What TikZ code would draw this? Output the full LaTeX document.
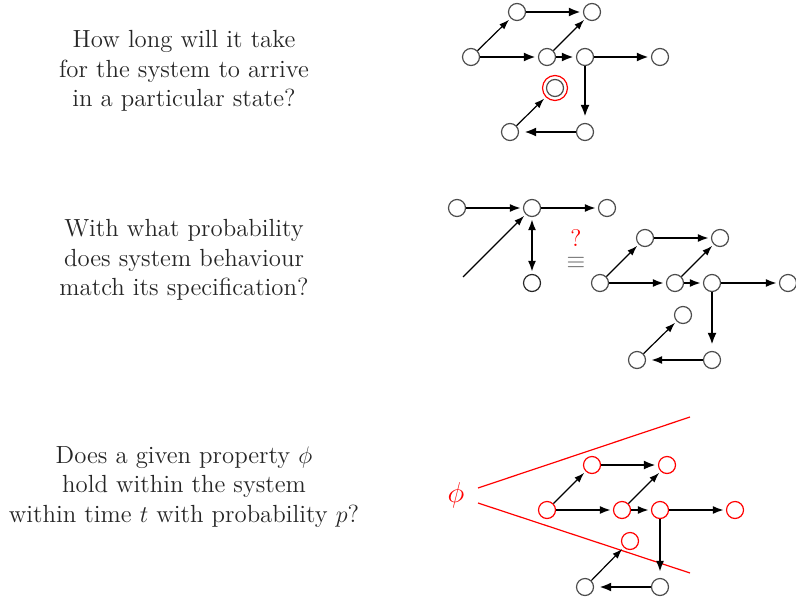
\documentclass[tikz,border=0pt]{standalone}
\usepackage{amsmath,amssymb}
\usepackage{tikz}
\usetikzlibrary{arrows.meta}

\begin{document}
\begin{tikzpicture}[x=0.5pt,y=-0.5pt,
  st/.style={circle,draw=black!70,line width=0.6pt,minimum size=8.5pt,inner sep=0pt},
  rst/.style={st,draw=red},
  tk/.style={-{Latex[length=6pt,width=4.5pt]},line width=1.4pt,shorten >=1pt},
  md/.style={-{Latex[length=5.5pt,width=4pt]},line width=0.95pt,shorten >=1pt},
  tn/.style={-{Latex[length=5pt,width=3.5pt]},line width=0.6pt,shorten >=1pt},
  qtext/.style={align=center,text=black!85,font=\fontsize{12.4}{14.8}\selectfont}]
  \clip (0,0) rectangle (796,599);

  % questions
  \node (t1) [qtext] at (184,71) {How long will it take\\for the system to arrive\\in a particular state?};
  \node (t2) [qtext] at (184,260) {With what probability\\does system behaviour\\match its specification?};
  \node (t3) [qtext] at (184,487) {Does a given property $\phi$\\hold within the system\\within time $t$ with probability $p$?};

  % first graph: reaching a state
  \node (A) [st] at (471,57) {};
  \node (B) [st] at (517,12) {};
  \node (C) [st] at (592,12) {};
  \node (D) [st] at (547,57) {};
  \node (E) [st] at (585,57) {};
  \node (F) [st] at (660,57) {};
  \node (G) [circle,draw=red,line width=0.6pt,minimum size=12.5pt,inner sep=0pt] at (555,88) {};
  \node [st] at (G) {};
  \node (H) [st] at (510,132) {};
  \node (I) [st] at (585,132) {};
  \draw[tn] (A) -- (B);
  \draw[tk] (B) -- (C);
  \draw[tk] (A) -- (D);
  \draw[tn] (D) -- (C);
  \draw[tk] (D) -- (E);
  \draw[tk] (E) -- (F);
  \draw[tk,shorten >=3pt] (E) -- (I);
  \draw[tk,shorten >=2.5pt] (I) -- (H);
  \draw[tn] (H) -- (G);

  % second graph: specification vs system
  \node (P1) [st] at (457,208) {};
  \node (P2) [st] at (532,208) {};
  \node (P3) [st] at (607,208) {};
  \node (P4) [st,draw=black!85] at (532,283) {};
  \coordinate (in) at (463,277);
  \draw[md] (P1) -- (P2);
  \draw[md] (P2) -- (P3);
  \draw[md,{Latex[length=5.5pt,width=4pt]}-{Latex[length=5.5pt,width=4pt]},shorten <=1pt] (P2) -- (P4);
  \draw[tn] (in) -- (P2);
  \node (rel) [align=center,font=\large,inner sep=0pt] at (576,249)
    {\textcolor{red}{?}\\[-3pt]\textcolor{black!60}{$\equiv$}};

  \node (Q1) [st] at (600,283) {};
  \node (Q2) [st] at (645,238) {};
  \node (Q3) [st] at (720,238) {};
  \node (Q4) [st] at (675,283) {};
  \node (Q5) [st] at (712,283) {};
  \node (Q6) [st] at (788,283) {};
  \node (Q7) [st] at (683,315) {};
  \node (Q8) [st] at (637,360) {};
  \node (Q9) [st] at (712,360) {};
  \draw[tn] (Q1) -- (Q2);
  \draw[md] (Q2) -- (Q3);
  \draw[md] (Q1) -- (Q4);
  \draw[tn] (Q4) -- (Q3);
  \draw[md] (Q4) -- (Q5);
  \draw[md] (Q5) -- (Q6);
  \draw[tk,shorten >=3pt] (Q5) -- (Q9);
  \draw[md,shorten >=2.5pt] (Q9) -- (Q8);
  \draw[tn] (Q8) -- (Q7);

  % third graph: property phi
  \draw[red,line width=0.6pt] (478,488) -- (690,417);
  \draw[red,line width=0.6pt] (478,503) -- (690,573);
  \node (phi) [text=red,font=\Large] at (456,495) {$\phi$};

  \node (R1) [rst] at (547,510) {};
  \node (R2) [rst] at (592,465) {};
  \node (R3) [rst] at (667,465) {};
  \node (R4) [rst] at (622,510) {};
  \node (R5) [rst] at (660,510) {};
  \node (R6) [rst] at (735,510) {};
  \node (R7) [rst] at (630,541) {};
  \node (R8) [st] at (585,587) {};
  \node (R9) [st] at (660,587) {};
  \draw[tn] (R1) -- (R2);
  \draw[tk] (R2) -- (R3);
  \draw[md] (R1) -- (R4);
  \draw[tn] (R4) -- (R3);
  \draw[md] (R4) -- (R5);
  \draw[md] (R5) -- (R6);
  \draw[md,shorten >=3pt] (R5) -- (R9);
  \draw[tk,shorten >=2.5pt] (R9) -- (R8);
  \draw[tn] (R8) -- (R7);
\end{tikzpicture}
\end{document}
